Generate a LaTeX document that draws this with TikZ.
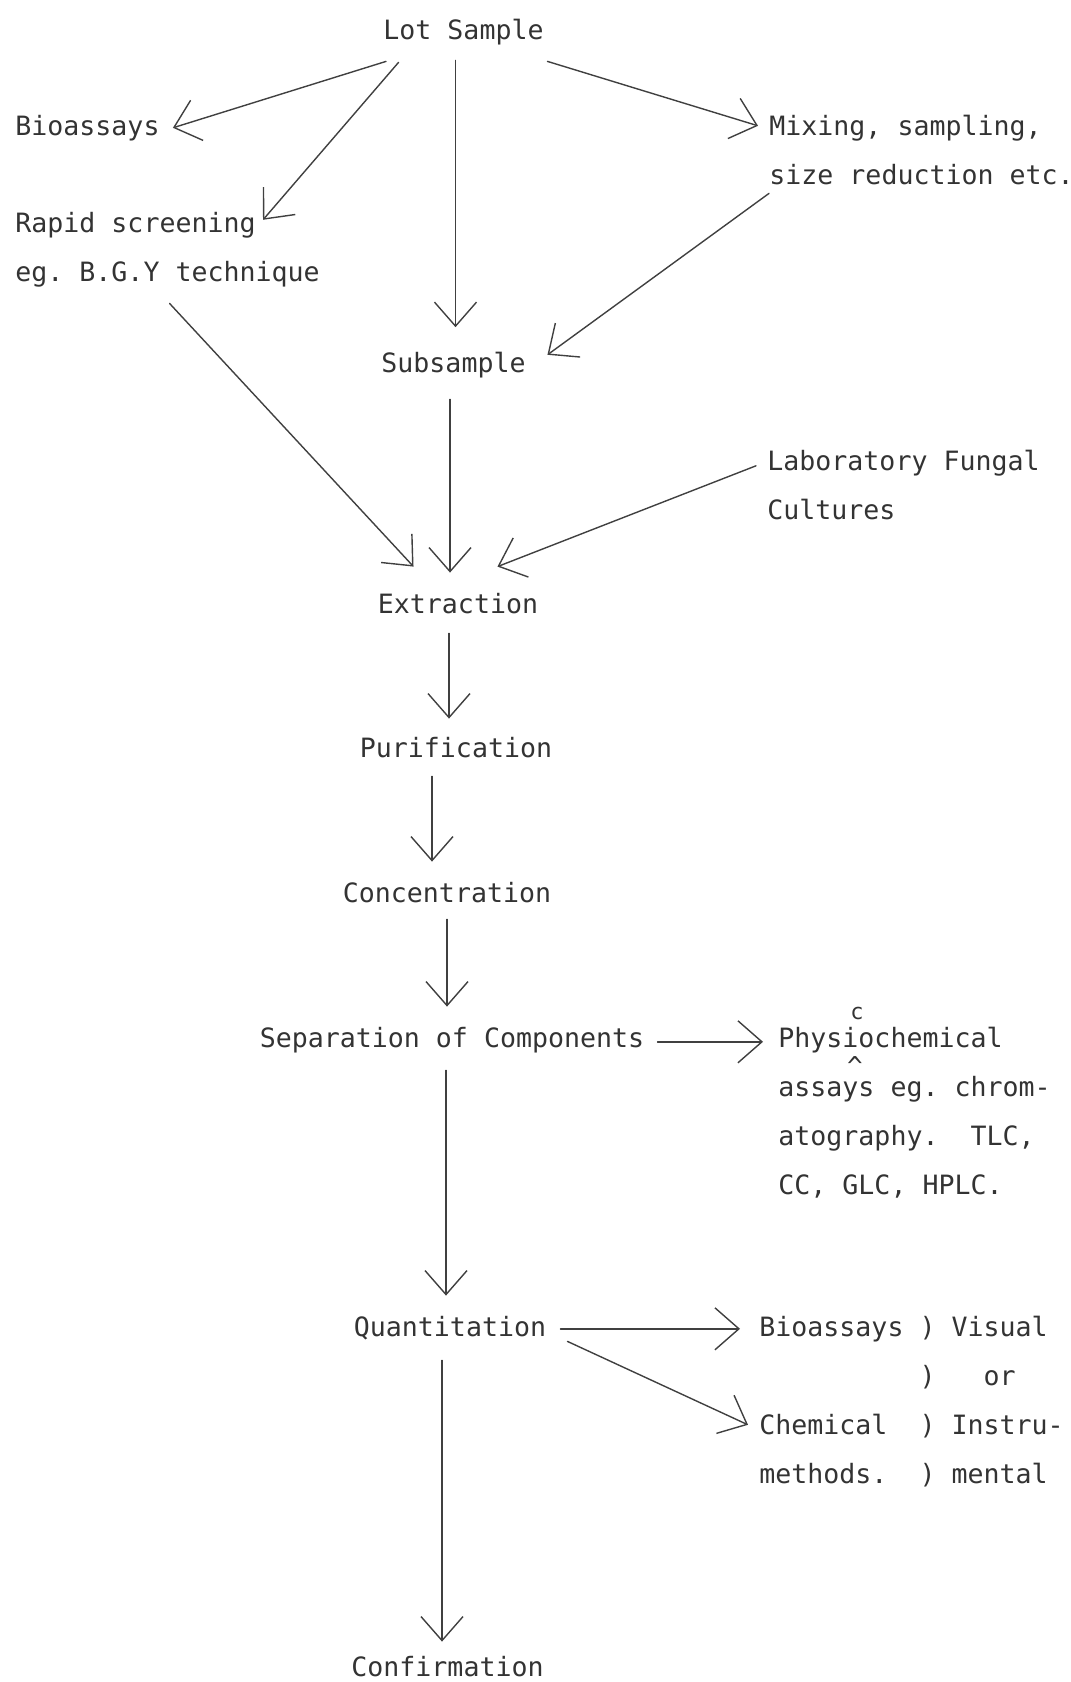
\documentclass[tikz,border=0pt]{standalone}
\usepackage{fontspec}
\newfontfamily\typewr{DejaVu Sans Mono}
\frenchspacing
\usetikzlibrary{calc,arrows.meta}

\begin{document}
\begin{tikzpicture}[x=0.5pt,y=-0.5pt,
  txt/.style={inner sep=0pt,text=black!80,font=\typewr\fontsize{13.3}{24.5}\selectfont,text height=9.7pt,text depth=2.5pt},
  corr/.style={inner sep=0pt,text=black!80,font=\typewr\fontsize{11}{11}\selectfont},
  arr/.style={draw=black!75,line width=0.7pt,line cap=round,-{Straight Barb[length=12pt,width=21pt]}}]
\useasboundingbox (0,0) rectangle (1071,1682);
\node[txt,anchor=base] (lot) at (463.5,39) {Lot Sample};
\node[txt,anchor=base west] (bio) at (15,135) {Bioassays};
\node[txt,anchor=base west] (mix) at (769,135) {Mixing, sampling,};
\node[txt,anchor=base west] (size) at (769,184) {size reduction etc.};
\node[txt,anchor=base west] (rapid) at (15,232) {Rapid screening};
\node[txt,anchor=base west] (bgy) at (15,281) {eg. B.G.Y technique};
\node[txt,anchor=base] (sub) at (453.5,372) {Subsample};
\node[txt,anchor=base west] (lab) at (767,470) {Laboratory Fungal};
\node[txt,anchor=base west] (cult) at (767,519) {Cultures};
\node[txt,anchor=base] (ext) at (458,613) {Extraction};
\node[txt,anchor=base] (pur) at (456,757) {Purification};
\node[txt,anchor=base] (conc) at (447,902) {Concentration};
\node[txt,anchor=base] (sep) at (452,1047) {Separation of Components};
\node[txt,anchor=base west] (phys) at (778,1047) {Physiochemical};
\node[txt,anchor=base west] (assay) at (778,1096) {assays eg. chrom-};
\node[txt,anchor=base west] (chrom) at (778,1145) {atography.~~TLC,};
\node[txt,anchor=base west] (hplc) at (778,1194) {CC, GLC, HPLC.};
\node[corr] (cfix) at (857,1013) {c};
\node[corr,font=\typewr\fontsize{13}{13}\selectfont,text height=10pt,text depth=-6pt] (caret) at (855,1065) {\textasciicircum};
\node[txt,anchor=base] (quant) at (450,1336) {Quantitation};
\node[txt,anchor=base west] (bioq) at (759,1336) {Bioassays ) Visual};
\node[txt,anchor=base west] (orln) at (759,1385) {~~~~~~~~~~)~~~or};
\node[txt,anchor=base west] (chem) at (759,1434) {Chemical~~) Instru-};
\node[txt,anchor=base west] (meth) at (759,1483) {methods.~~) mental};
\node[txt,anchor=base] (conf) at (447.5,1676) {Confirmation};

\draw[arr] ([shift={(3,17)}]lot.south west) -- ([shift={(13,0)}]bio.east);
\draw[arr] ([shift={(15.5,18)}]lot.south west) -- ([shift={(7,-5)}]rapid.east);
\draw[arr] ([shift={(-8,16)}]lot.south) -- ([shift={(2,-25)}]sub.north);
\draw[arr] ([shift={(3.5,17)}]lot.south east) -- ([shift={(-11,-2)}]mix.west);
\draw[arr] ([shift={(0,4)}]size.south west) -- ([shift={(21.5,-10)}]sub.east);
\draw[arr] ([shift={(2,17)}]bgy.south) -- ([shift={(36,-26.6)}]ext.north west);
\draw[arr] ([shift={(-3.5,22)}]sub.south) -- ([shift={(-8,-20.6)}]ext.north);
\draw[arr] ([shift={(-11,3)}]lab.west) -- ([shift={(-41,-26.6)}]ext.north east);
\draw[arr] ([shift={(-9,15)}]ext.south) -- ([shift={(-7,-18.6)}]pur.north);
\draw[arr] ([shift={(-24,14)}]pur.south) -- ([shift={(-15,-20.6)}]conc.north);
\draw[arr] ([shift={(0,12)}]conc.south) -- ([shift={(-5,-20.6)}]sep.north);
\draw[arr] ([shift={(-6,18)}]sep.south) -- ([shift={(-4,-20.6)}]quant.north);
\draw[arr] ([shift={(-8,19)}]quant.south) -- ([shift={(-5.5,-14.6)}]conf.north);
\draw[arr] ([shift={(13,2)}]sep.east) -- ([shift={(-15,2)}]phys.west);
\draw[arr] ([shift={(14,0)}]quant.east) -- ([shift={(-19,0)}]bioq.west);
\draw[arr] ([shift={(21,0)}]quant.south east) -- ([shift={(-11,-2)}]chem.west);
\end{tikzpicture}
\end{document}
